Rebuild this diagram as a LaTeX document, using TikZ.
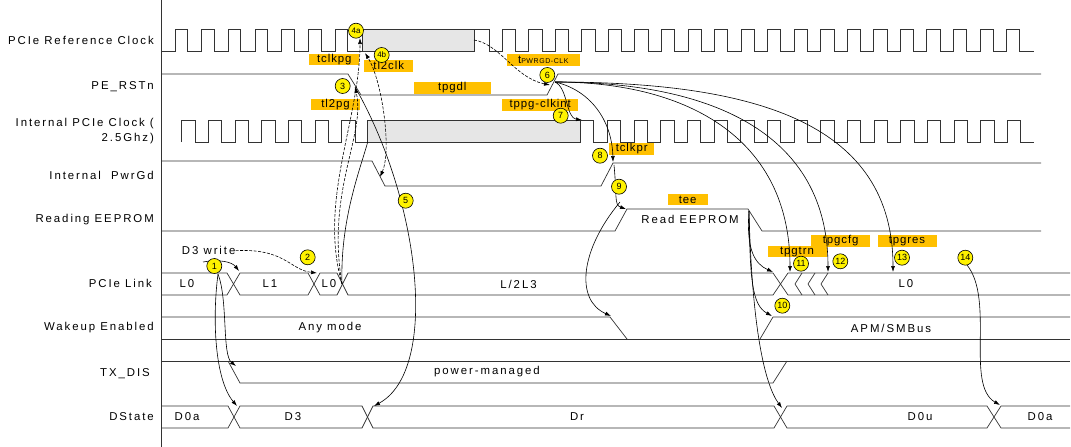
\documentclass[tikz,border=0pt]{standalone}
\usepackage{fontspec}
\setmainfont{Liberation Sans}
\newfontfamily\sigfont{Liberation Sans}[LetterSpace=17]
\newfontfamily\tagfont{Liberation Sans}[LetterSpace=8]
\usetikzlibrary{arrows.meta}
\definecolor{tagfill}{HTML}{FFC000}
\definecolor{busyfill}{HTML}{E6E6E6}

\begin{document}
\begin{tikzpicture}[x=1pt, y=-1pt,
  wave/.style={draw=black!80, line width=0.7pt},
  busy/.style={wave, fill=busyfill},
  signame/.style={anchor=east, align=right, inner sep=0pt, font=\sigfont\fontsize{11.4}{15}\selectfont},
  busname/.style={inner sep=0pt, font=\sigfont\fontsize{11.4}{13}\selectfont},
  timing/.style={fill=tagfill, inner sep=0pt, minimum height=11.5pt, font=\tagfont\fontsize{11.4}{11}\selectfont},
  marker/.style={circle, draw=black, fill=yellow, line width=0.6pt, inner sep=0pt, minimum size=15pt, font=\fontsize{9}{9}\selectfont},
  tie/.style={black, line width=0.6pt},
  causes/.style={tie, -{Latex[length=6pt, width=4pt]}},
  waits/.style={causes, dash pattern=on 3pt off 1.5pt},
  spans/.style={tie, dash pattern=on 3pt off 1.5pt, {Latex[length=6pt, width=4pt]}-{Latex[length=6pt, width=4pt]}}
]
  \useasboundingbox (0,0) rectangle (1071,447);

  \node[timing, minimum width=50pt] (tClkpg) at (334.3,59.7) {tclkpg};
  \node[timing, minimum width=49pt] (tL2clk) at (388.7,65.8) {tl2clk};
  \node[timing, minimum width=49pt] (tL2pg) at (335.5,104.7) {tl2pg};
  \node[timing, minimum width=77pt] (tPgdl) at (452.3,87.8) {tpgdl};
  \node[timing, minimum width=73pt] (tPwrgd) at (543.3,59.8) {t\fontsize{7}{7}\selectfont PWRGD-CLK};
  \node[timing, minimum width=76pt] (tPpg) at (540.2,104.8) {tppg-clkint};
  \node[timing, minimum width=45pt] (tClkpr) at (631.7,148.8) {tclkpr};
  \node[timing, minimum width=40pt] (tEe) at (687.7,199.7) {tee};
  \node[timing, minimum width=59pt] (tPgtrn) at (797,251.7) {tpgtrn};
  \node[timing, minimum width=59pt] (tPgcfg) at (840.7,240.8) {tpgcfg};
  \node[timing, minimum width=59pt] (tPgres) at (907,240.8) {tpgres};

  \draw[wave] (161,0) -- (161,447);

  \draw[wave] (161,51) \foreach \k in {0,...,6}{ -- ({175+26.67*\k},51) -- ({175+26.67*\k},29) -- ({187.5+26.67*\k},29) -- ({187.5+26.67*\k},51) } -- (362,51);
  \draw[busy] (362,29) rectangle (474,51);
  \draw[wave] (474,29) -- (489,29) -- (489,51) \foreach \k in {0,...,19}{ -- ({502+26.55*\k},51) -- ({502+26.55*\k},29) -- ({515.3+26.55*\k},29) -- ({515.3+26.55*\k},51) } -- (1034,51);

  \draw[wave] (161,74) -- (348,74) -- (361,95) -- (547,95) -- (558,74) -- (1041,74);

  \draw[wave] (181.7,142) \foreach \k in {0,...,6}{ -- ({181.7+26.67*\k},142) -- ({181.7+26.67*\k},120) -- ({195+26.67*\k},120) -- ({195+26.67*\k},142) } -- (367.7,142);
  \draw[busy] (367.7,120) rectangle (580.7,142);
  \draw[wave] (580.7,120) -- (593.3,120) -- (593.3,142) \foreach \k in {0,...,15}{ -- ({607.3+26.67*\k},142) -- ({607.3+26.67*\k},120) -- ({620.6+26.67*\k},120) -- ({620.6+26.67*\k},142) } -- (1034,142);

  \draw[wave] (161,161) -- (372,161) -- (385,186) -- (601,186) -- (613,163) -- (1041,163);

  \draw[wave] (161,231) -- (615,231) -- (627,209) -- (748,209) -- (762,231) -- (1041,231);

  \draw[wave] (161,273) -- (227,273) -- (240,295) -- (308,295) -- (320,273) -- (337,273) -- (348,295) -- (773,295) -- (788,273) -- (1070,273);
  \draw[wave] (161,295) -- (227,295) -- (240,273) -- (308,273) -- (320,295) -- (337,295) -- (348,273) -- (773,273) -- (788,295) -- (1070,295);
  \foreach \x in {795,808,821}
    \draw[wave] ({\x+7},273) -- (\x,284) -- ({\x+7},295);

  \draw[wave] (161,317) -- (610,317) -- (627,339);
  \draw[wave] (161,339) -- (1070,339);
  \draw[wave] (760,339) -- (773,317) -- (1070,317);

  \draw[wave] (161,361) -- (1070,361);
  \draw[wave] (228,361) -- (240,383) -- (773,383) -- (787,361);

  \draw[wave] (161,406) -- (228,406) -- (240,428) -- (362,428) -- (373,406) -- (774,406) -- (787,428) -- (987,428) -- (1001,406) -- (1070,406);
  \draw[wave] (161,428) -- (228,428) -- (240,406) -- (362,406) -- (373,428) -- (774,428) -- (787,406) -- (987,406) -- (1001,428) -- (1070,428);

  \node[signame] (nRef) at (154,40) {PCIe Reference Clock};
  \node[signame] (nRst) at (154,86.5) {PE\_RSTn};
  \node[signame] (nClk) at (154,131) {Internal PCIe Clock (\\2.5Ghz)};
  \node[signame] (nPg) at (154,175) {Internal~~PwrGd};
  \node[signame] (nEe) at (154,220) {Reading EEPROM};
  \node[signame] (nLink) at (152,283.5) {PCIe Link};
  \node[signame] (nWake) at (154,327.5) {Wakeup Enabled};
  \node[signame] (nTx) at (150,373.5) {TX\_DIS};
  \node[signame] (nDs) at (154,417) {DState};

  \node[busname] (bEe) at (690,219.5) {Read EEPROM};
  \node[busname] (bL0a) at (187,284) {L0};
  \node[busname] (bL1) at (270,284) {L1};
  \node[busname] (bL0b) at (329,284) {L0};
  \node[busname] (bL23) at (518.5,284) {L/2L3};
  \node[busname] (bL0c) at (906,284) {L0};
  \node[busname] (bAny) at (330,327.5) {Any mode};
  \node[busname] (bApm) at (891,328) {APM/SMBus};
  \node[busname] (bPm) at (487,372) {power-managed};
  \node[busname] (bD0a) at (187,417) {D0a};
  \node[busname] (bD3) at (293,417) {D3};
  \node[busname] (bDr) at (577,417) {Dr};
  \node[busname] (bD0u) at (920,417) {D0u};
  \node[busname] (bD0b) at (1040,417) {D0a};
  \node[busname] (d3w) at (208.7,250.7) {D3 write};

  \coordinate (refA) at (360,38);
  \coordinate (refB) at (365,53);
  \coordinate (refEnd) at (474,40);
  \coordinate (rstFall) at (355,87);
  \coordinate (rstRise) at (550,85);
  \coordinate (rstOut) at (555,82);
  \coordinate (clkBoxA) at (367.7,142);
  \coordinate (clkBoxB) at (582,120);
  \coordinate (pgFall) at (380,177);
  \coordinate (pgRise) at (613,162);
  \coordinate (pgHigh) at (614,165);
  \coordinate (eeRise) at (626,209);
  \coordinate (eeMid) at (620,202);
  \coordinate (eeFall) at (749,211);
  \coordinate (lkU1) at (218,274);
  \coordinate (lkX1) at (239,271);
  \coordinate (lkX2) at (317,273);
  \coordinate (lkX3) at (342,284);
  \coordinate (lkX4) at (773,272);
  \coordinate (lkT11) at (790,272);
  \coordinate (lkT12) at (828,272);
  \coordinate (lkT13) at (893,272);
  \coordinate (wkFall) at (611,316);
  \coordinate (wkRise) at (772,316);
  \coordinate (txFall) at (236,366);
  \coordinate (dsX1) at (237,406);
  \coordinate (dsX2) at (374,406);
  \coordinate (dsX3) at (782,408);
  \coordinate (dsX4) at (1000,405);
  \coordinate (c1) at (203,262);
  \coordinate (c14) at (967,265);

  \draw[waits] (d3w.east) .. controls (285,248) and (290,270) .. (lkX2);
  \draw[waits] (lkX3) .. controls (318,200) and (360,120) .. (refA);
  \draw[waits] (lkX3) .. controls (326,190) and (366,135) .. (rstFall);
  \draw[spans] (pgFall) .. controls (392,150) and (382,80) .. (refB);
  \draw[tie] (lkX3) .. controls (340,220) and (360,170) .. (clkBoxA);
  \draw[causes] (rstFall) .. controls (420,200) and (440,370) .. (dsX2);
  \draw[causes] (c1) .. controls (220,259) and (232,262) .. (lkX1);
  \draw[causes] (lkU1) .. controls (228,300) and (222,355) .. (txFall);
  \draw[causes] (lkU1) .. controls (212,320) and (215,380) .. (dsX1);
  \draw[waits] (refEnd) .. controls (500,44) and (515,78) .. (rstRise);
  \draw[causes] (rstOut) .. controls (568,88) and (566,118) .. (clkBoxB);
  \draw[causes] (rstOut) .. controls (590,90) and (612,120) .. (pgRise);
  \draw[causes] (rstOut) .. controls (690,82) and (790,140) .. (lkT11);
  \draw[causes] (rstOut) .. controls (715,82) and (828,135) .. (lkT12);
  \draw[causes] (rstOut) .. controls (760,82) and (893,125) .. (lkT13);
  \draw[causes] (pgHigh) .. controls (617,195) and (614,205) .. (eeRise);
  \draw[causes] (eeMid) .. controls (580,250) and (575,300) .. (wkFall);
  \draw[causes] (eeFall) .. controls (746,250) and (755,264) .. (lkX4);
  \draw[causes] (eeFall) .. controls (750,280) and (752,305) .. (wkRise);
  \draw[causes] (eeFall) .. controls (752,330) and (765,385) .. (dsX3);
  \draw[causes] (c14) .. controls (995,300) and (965,385) .. (dsX4);

  \node[marker, font=\fontsize{8}{8}\selectfont] (m4a) at (356,30.7) {4a};
  \node[marker, font=\fontsize{8}{8}\selectfont] (m4b) at (381.7,55) {4b};
  \node[marker] (m3) at (342.7,86) {3};
  \node[marker] (m1) at (214.3,266) {1};
  \node[marker] (m2) at (307.7,257.3) {2};
  \node[marker] (m5) at (405.7,200.7) {5};
  \node[marker] (m6) at (547.3,75) {6};
  \node[marker] (m7) at (560.7,115.7) {7};
  \node[marker] (m8) at (600,155.7) {8};
  \node[marker] (m9) at (619,186.7) {9};
  \node[marker] (m10) at (782.3,305.7) {10};
  \node[marker] (m11) at (801,263.7) {11};
  \node[marker] (m12) at (840.3,261.3) {12};
  \node[marker] (m13) at (902,257.7) {13};
  \node[marker] (m14) at (965.3,257.7) {14};
\end{tikzpicture}
\end{document}
